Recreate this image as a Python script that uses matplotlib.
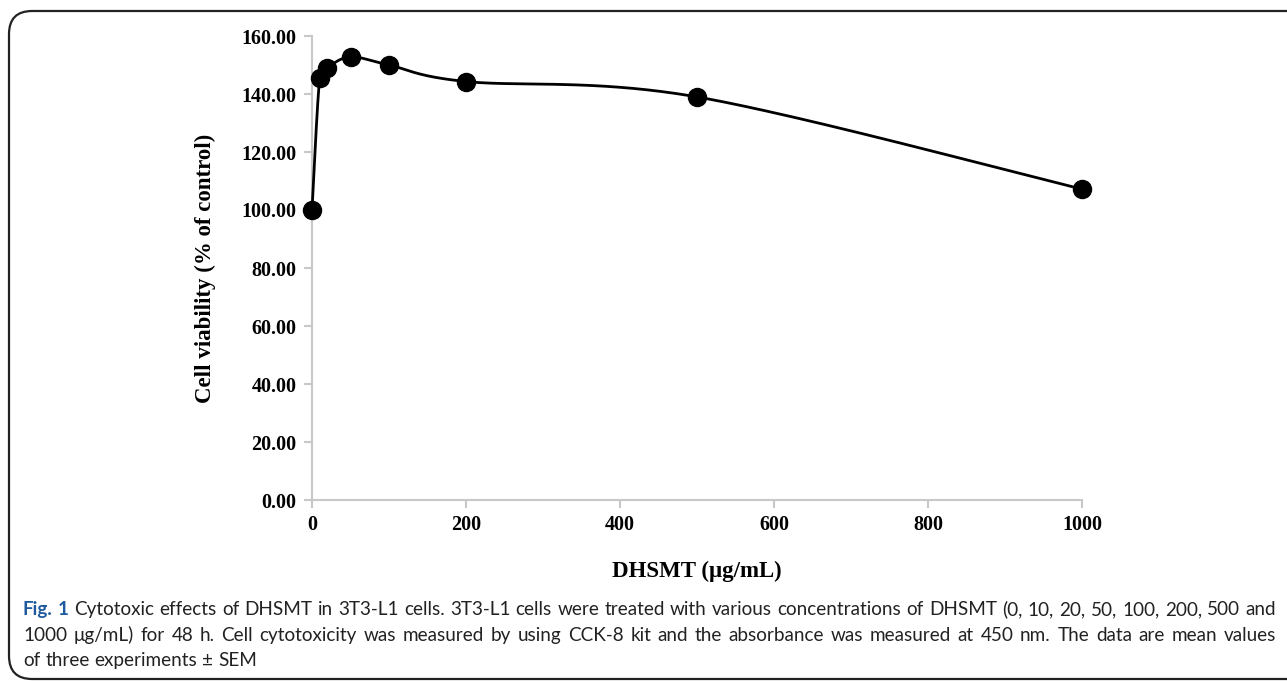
import numpy as np
import matplotlib
matplotlib.use("Agg")
import matplotlib.pyplot as plt
from matplotlib import font_manager
from matplotlib.patches import FancyBboxPatch

# ---- data ----
concentration = [0, 10, 20, 50, 100, 200, 500, 1000]
viability = [100.0, 145.5, 149.0, 152.8, 150.0, 144.3, 139.0, 107.2]
y_ticks = [0, 20, 40, 60, 80, 100, 120, 140, 160]
x_ticks = [0, 200, 400, 600, 800, 1000]
x_label = "DHSMT (μg/mL)"
y_label = "Cell viability (% of control)"
caption_lines = [
    "Fig. 1 Cytotoxic effects of DHSMT in 3T3-L1 cells. 3T3-L1 cells were treated with various concentrations of DHSMT (0, 10, 20, 50, 100, 200, 500 and",
    "1000 μg/mL) for 48 h. Cell cytotoxicity was measured by using CCK-8 kit and the absorbance was measured at 450 nm. The data are mean values",
    "of three experiments ± SEM",
]

W, H = 1287, 681
fig = plt.figure(figsize=(W / 100, H / 100), dpi=100)

def has_font(name):
    try:
        font_manager.findfont(font_manager.FontProperties(family=name), fallback_to_default=False)
        return True
    except Exception:
        return False

cap_family = "Lato" if has_font("Lato") else "Open Sans"
serif = "Liberation Serif"

# rounded border
border = FancyBboxPatch((9 / W, (H - 679) / H), (1320 - 9) / W, (679 - 11) / H,
                        boxstyle="round,pad=0,rounding_size=0.018",
                        transform=fig.transFigure, fill=False, edgecolor="#222222",
                        linewidth=1.6, mutation_aspect=W / H, clip_on=False)
fig.patches.append(border)

# axes
L, R, T, B = 312, 1082, 36, 500
ax = fig.add_axes([L / W, (H - B) / H, (R - L) / W, (B - T) / H])
ax.set_xlim(0, 1000)
ax.set_ylim(0, 160)

# smooth curve (Catmull-Rom in pixel space)
px = np.array(concentration, float) / 1000 * (R - L)
py = np.array(viability, float) / 160 * (B - T)
P = np.column_stack([px, py])
curve = []
n = len(P)
for i in range(n - 1):
    p0 = P[i - 1] if i > 0 else P[i]
    p1 = P[i]
    p2 = P[i + 1]
    p3 = P[i + 2] if i + 2 < n else P[i + 1]
    c1 = p1 + (p2 - p0) / 6
    c2 = p2 - (p3 - p1) / 6
    t = np.linspace(0, 1, 60)[:, None]
    seg = (1 - t) ** 3 * p1 + 3 * (1 - t) ** 2 * t * c1 + 3 * (1 - t) * t ** 2 * c2 + t ** 3 * p2
    curve.append(seg)
curve = np.vstack(curve)
cx = curve[:, 0] / (R - L) * 1000
cy = curve[:, 1] / (B - T) * 160
ax.plot(cx, cy, color="black", linewidth=2.0, solid_capstyle="round", clip_on=False, zorder=3)
ax.plot(concentration, viability, "o", color="black", markersize=13, clip_on=False, zorder=4)

for s in ["top", "right"]:
    ax.spines[s].set_visible(False)
for s in ["left", "bottom"]:
    ax.spines[s].set_color("#c8c8c8")
    ax.spines[s].set_linewidth(1.5)
ax.set_yticks(y_ticks)
ax.set_yticklabels([f"{v:.2f}" for v in y_ticks])
ax.set_xticks(x_ticks)
ax.set_xticklabels([str(v) for v in x_ticks])
ax.tick_params(axis="both", colors="#c8c8c8", length=6, width=1.5, labelcolor="black", pad=5)
for lab in ax.get_xticklabels() + ax.get_yticklabels():
    lab.set_fontfamily(serif)
    lab.set_fontweight("bold")
    lab.set_fontsize(14.5)

fig.text(697 / W, 1 - 571 / H, x_label, ha="center", va="center",
         fontfamily=serif, fontweight="bold", fontsize=16.5)
fig.text(205 / W, 1 - 268 / H, y_label, ha="center", va="center", rotation=90,
         fontfamily=serif, fontweight="bold", fontsize=16.5)

# caption, justified
fig.canvas.draw()
renderer = fig.canvas.get_renderer()
x0, x1 = 23, 1276
baselines = [615, 641, 666]
blue = "#1f5a9e"

# choose a font size so the first line's natural width fits the text block
probe = fig.text(0, 0, caption_lines[0], fontsize=12, fontfamily=cap_family)
natural = probe.get_window_extent(renderer).width
probe.remove()
fs = min(14.5, 12 * (x1 - x0) / natural * 0.985)

for li, (line, yb) in enumerate(zip(caption_lines, baselines)):
    words = line.split(" ")
    objs = []
    for wi, w in enumerate(words):
        bold = li == 0 and wi < 2
        t = fig.text(0, 1 - yb / H, w, ha="left", va="baseline", fontsize=fs,
                     fontfamily=cap_family, fontweight="bold" if bold else "normal",
                     color=blue if bold else "#222222")
        objs.append(t)
    widths = [o.get_window_extent(renderer).width for o in objs]
    if li < 2:
        gap = (x1 - x0 - sum(widths)) / (len(words) - 1)
    else:
        sp = fig.text(0, 0, "a a", fontsize=fs, fontfamily=cap_family)
        sp2 = fig.text(0, 0, "aa", fontsize=fs, fontfamily=cap_family)
        gap = sp.get_window_extent(renderer).width - sp2.get_window_extent(renderer).width
        sp.remove(); sp2.remove()
    x = x0
    for o, w in zip(objs, widths):
        o.set_x(x / W)
        x += w + gap

fig.savefig("out.png", dpi=100)
